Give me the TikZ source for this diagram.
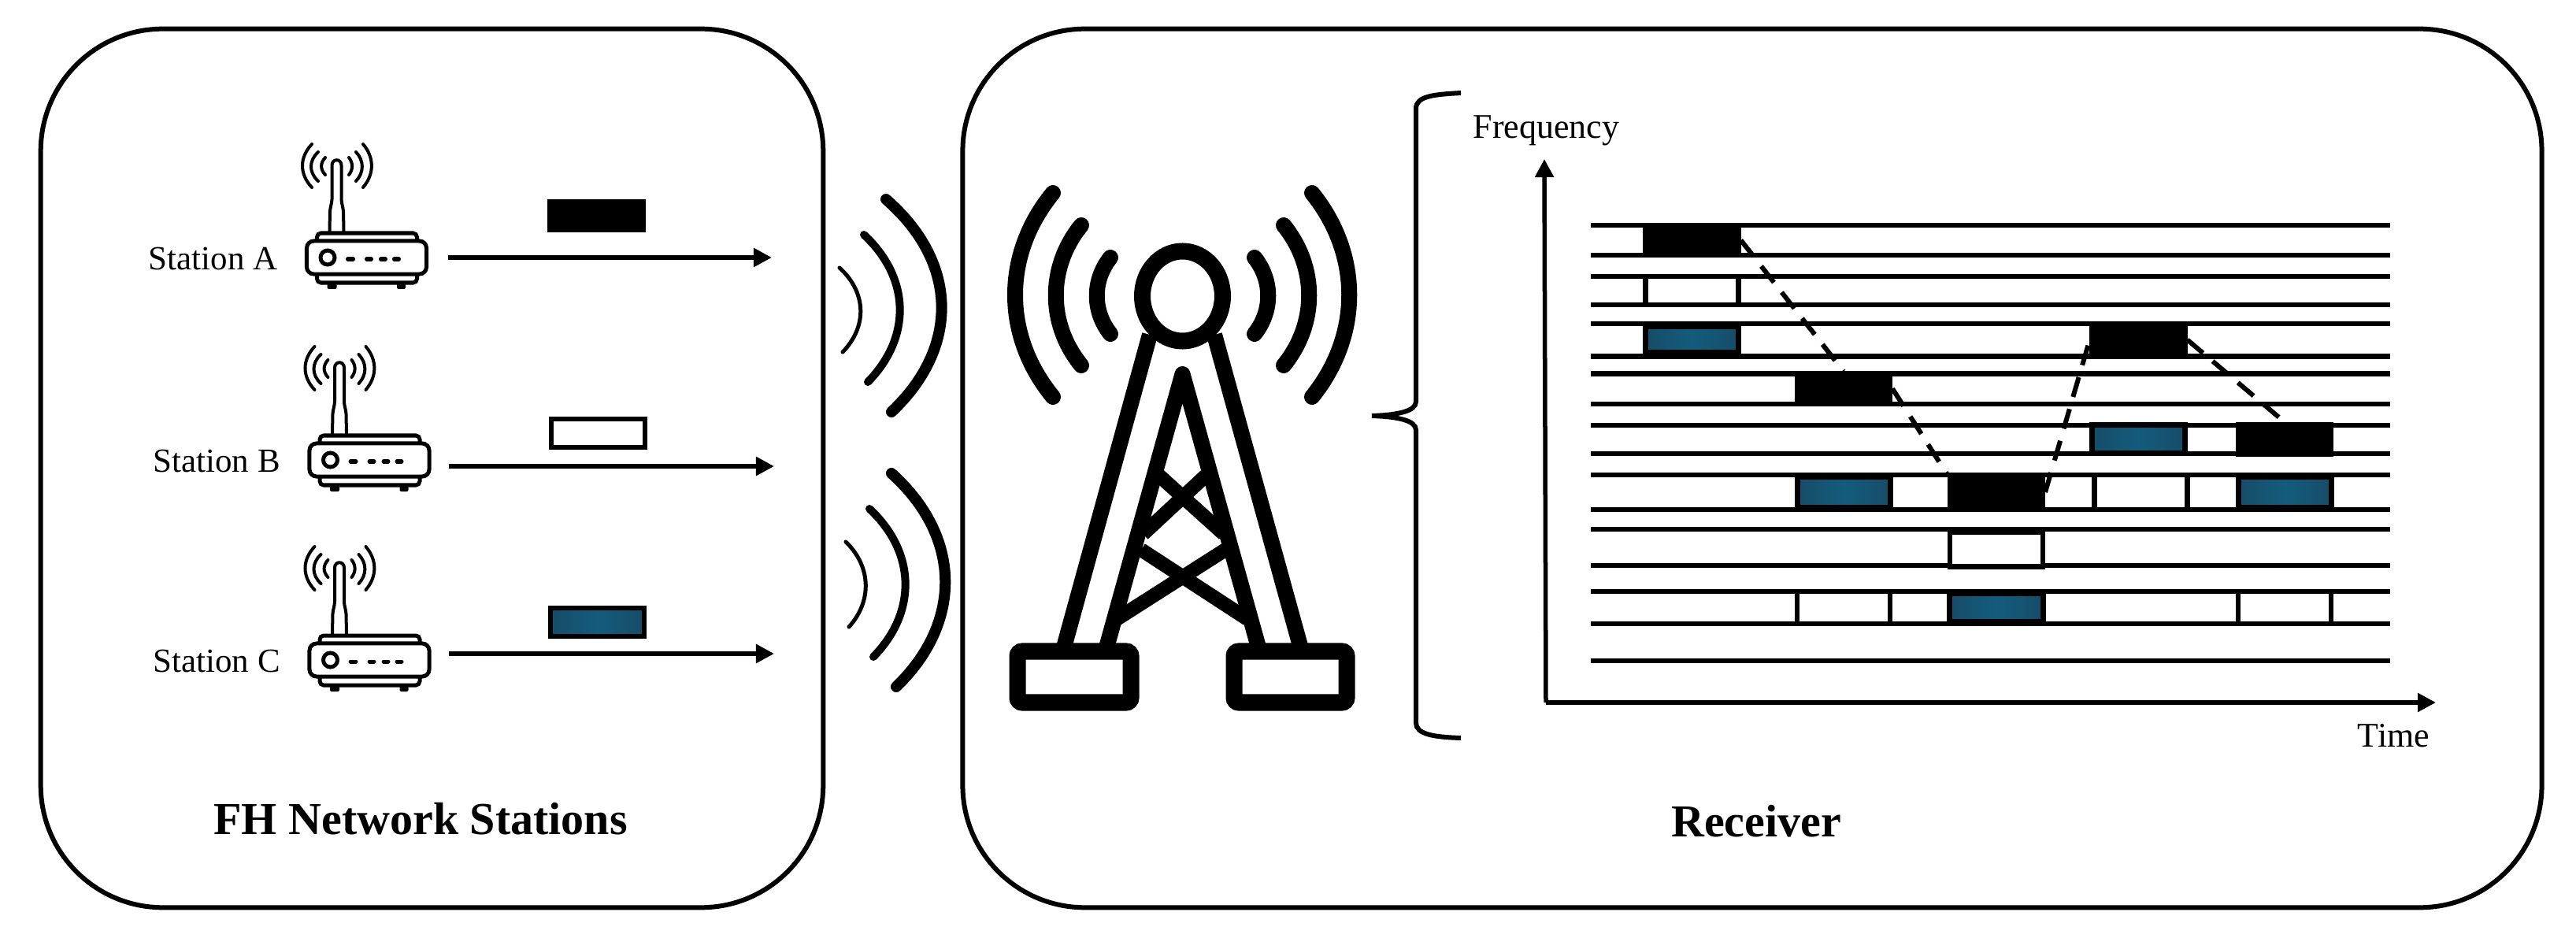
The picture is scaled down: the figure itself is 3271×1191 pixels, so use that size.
\documentclass[tikz,border=0pt]{standalone}
\usepackage{fontspec}
\setmainfont{Liberation Serif}
\usetikzlibrary{arrows.meta,positioning,calc}
\definecolor{hopedge}{RGB}{22,76,104}
\definecolor{hopmid}{RGB}{20,92,124}
\tikzset{
  panel/.style={draw,line width=0.06cm,rounded corners=1.55cm},
  lbl/.style={font=\fontsize{12.5}{15}\selectfont,inner sep=0},
  stn/.style={font=\fontsize{12.2}{15}\selectfont,inner sep=0,yshift=-0.02cm},
  ttl/.style={font=\fontsize{16.5}{20}\selectfont\bfseries,inner sep=0},
  arr/.style={-{Triangle[length=0.23cm,width=0.23cm]},line width=0.06cm},
  chan/.style={line width=0.065cm},
  blackpkt/.style={fill=black,minimum width=1.24cm,minimum height=0.44cm,inner sep=0,outer sep=0},
  whitepkt/.style={draw,fill=white,line width=0.065cm,minimum width=1.18cm,inner sep=0,outer sep=0},
  bluepkt/.style={draw,line width=0.07cm,left color=hopedge,right color=hopedge,middle color=hopmid,minimum width=1.18cm,inner sep=0,outer sep=0},
  hopline/.style={line width=0.06cm,dash pattern=on 0.26cm off 0.16cm},
  sig/.style={line cap=round},
  routerbody/.style={draw,line width=0.05cm,rounded corners=0.09cm,minimum width=1.52cm,minimum height=0.42cm,inner sep=0,outer sep=0.025cm},
  pics/router/.style={code={
    \draw[line width=0.04cm,rounded corners=0.02cm] (-47,-33) -- (-46.5,-60) -- (-44,-72) -- (-44,-115) .. controls (-44,-126) and (-32,-126) .. (-32,-115) -- (-32,-72) -- (-29.5,-60) -- (-29,-33);
    \foreach \xa/\xc/\ya/\yb/\yc/\yd in {-69.5/-85.5/-144/-89/-127/-106,-61.5/-73.5/-134/-97/-123/-108,-52.5/-59/-127/-105/-120/-112,-4.5/10/-144/-89/-127/-106,-13.5/-3/-134/-97/-123/-108,-22.5/-17/-127/-105/-120/-112}
      \draw[sig,line width=0.04cm] (\xa,\ya) .. controls (\xc,\yc) and (\xc,\yd) .. (\xa,\yb);
    \draw[line width=0.05cm,rounded corners=0.05cm] (-63,-21) -- (-63,-31) -- (64,-31) -- (64,-21);
    \draw[line width=0.05cm,rounded corners=0.05cm] (-63,21) -- (-63,32) -- (64,32) -- (64,21);
    \node[routerbody] (-body) at (0,0) {};
    \draw[line width=0.05cm] (-49.5,0) circle [radius=9];
    \foreach \xa/\xb in {-24/-17,0/6,18/24,35/41}
      \draw[sig,line width=0.05cm] (\xa,2) -- (\xb,2);
    \fill[rounded corners=0.02cm] (-50,33) rectangle (-38,40);
    \fill[rounded corners=0.02cm] (38.5,33) rectangle (49.5,40);
  }}
}
\begin{document}
\begin{tikzpicture}[x=0.01cm,y=-0.01cm]
\useasboundingbox (0,0) rectangle (3271,1191);
\node[panel,minimum width=9.93cm,minimum height=11.15cm] (left) at (548.5,594.5) {};
\node[panel,minimum width=20.04cm,minimum height=11.15cm] (right) at (3227-1002,594.5) {};
\pic (ra) at (465.5,327) {router};
\pic (rb) at (469,584) {router};
\pic (rc) at (469,838) {router};
\node[stn,left=0.34cm of ra-body] (la) {Station A};
\node[stn,left=0.34cm of rb-body] (lb) {Station B};
\node[stn,left=0.34cm of rc-body] (lc) {Station C};
\coordinate (ea) at (980,327);
\coordinate (eb) at (983,592);
\coordinate (ec) at (983,830);
\draw[arr,shorten <=0.25cm] (ra-body.east |- ea) -- (ea);
\draw[arr,shorten <=0.22cm] (rb-body.east |- eb) -- (eb);
\draw[arr,shorten <=0.22cm] (rc-body.east |- ec) -- (ec);
\node[fill=black,minimum width=1.25cm,minimum height=0.42cm,inner sep=0] (pa) at (757.5,274) {};
\node[draw,line width=0.06cm,minimum width=1.19cm,minimum height=0.36cm,inner sep=0] (pb) at (759.5,550) {};
\node[bluepkt,line width=0.06cm,minimum width=1.19cm,minimum height=0.36cm] (pc) at (758.5,790) {};
\node[ttl] (tl) at (534,1040) {FH Network Stations};
\node[ttl] (tr) at (2230,1043) {Receiver};
% waves between the panels
\foreach \xa/\xb/\xc/\ya/\yb/\yc/\yd/\w in {1125/1132/1218/253/523/334/442/0.14,1097/1102/1157/298/485/354/429/0.1,1066/1070/1101/340/447/372/415/0.05,1132/1138/1222/601/872/682/791/0.14,1104/1109/1164/646/834/702/778/0.1,1074/1078/1107/688/796/720/764/0.05}
  \draw[sig,line width=\w cm] (\xa,\ya) .. controls (\xc,\yc) and (\xc,\yd) .. (\xb,\yb);
% tower
\foreach \xa/\xc/\ya/\yb/\yc/\yd in {1337/1273/245/504/323/426,1373/1330/286/464/339/411,1410/1387/327/424/356/395,1666/1729/245/504/323/426,1630/1673/286/464/339/411,1593/1616/327/424/356/395}
  \draw[sig,line width=0.2cm] (\xa,\ya) .. controls (\xc,\yc) and (\xc,\yd) .. (\xa,\yb);
\draw[line width=0.21cm] (1501.5,376) ellipse [x radius=51,y radius=57];
\draw[line width=0.2cm] (1460,425) -- (1351.5,820);
\draw[line width=0.2cm] (1542,425) -- (1651,820);
\draw[line width=0.2cm,line join=round] (1405.6,820) -- (1501.5,475) -- (1597.5,820);
\foreach \xa/\ya/\xb/\yb in {1472/604/1554/678,1531/604/1451.5/678,1449/698/1584/786,1556/698/1418/786}
  \draw[line width=0.18cm] (\xa,\ya) -- (\xb,\yb);
\draw[line width=0.21cm,rounded corners=0.06cm,fill=white] (1292,827) rectangle (1436,892);
\draw[line width=0.21cm,rounded corners=0.06cm,fill=white] (1567,827) rectangle (1710,892);
% brace
\draw[line width=0.06cm] (1855,118) .. controls (1820,120) and (1798,122) .. (1798,138) -- (1798,510) .. controls (1798,522) and (1775,527) .. (1742,528) .. controls (1775,529) and (1798,534) .. (1798,546) -- (1798,918) .. controls (1798,932) and (1820,936) .. (1855,937);
% axes
\coordinate (orig) at (1963,892);
\coordinate (ftop) at (1961,202);
\coordinate (tend) at (3093,892);
\draw[arr,line width=0.055cm] (orig) -- (ftop);
\draw[arr,line width=0.055cm] (orig) -- (tend);
\node[lbl,anchor=base west] (fq) at (1870,176) {Frequency};
\node[lbl,anchor=base west] (tm) at (2993,948) {Time};
% channels and packets
\foreach \y in {286,324,351,387,411,452.5,474.5,513,540,576,603,647,672,718,751,792,839}
  \draw[chan] (2020,\y) -- (3035,\y);
\foreach \n/\x/\y in {h1/2148.5/305,h2/2341/493.5,h3/2535/625,h4/2715.5/431.5,h5/2901/558}
  \node[blackpkt] (\n) at (\x,\y) {};
\foreach \n/\x/\y/\h in {w1/2148.5/369/0.36,w2/2718.5/625/0.44,w3/2341/771.5/0.41,w4/2901/771.5/0.41,w5/2535/697.5/0.44}
  \node[whitepkt,minimum height=\h cm] (\n) at (\x,\y) {};
\foreach \n/\x/\y/\h in {c1/2148.5/431/0.33,c2/2341.5/625/0.38,c3/2715.5/557.5/0.35,c4/2901.5/625/0.38,c5/2535/771.5/0.36}
  \node[bluepkt,minimum height=\h cm] (\n) at (\x,\y) {};
\draw[hopline] (h1.east) -- (h2.north);
\draw[hopline] (h2.east) -- (h3.north west);
\draw[hopline] (h3.east) -- (h4.west);
\draw[hopline] (h4.east) -- (h5.north);
\end{tikzpicture}
\end{document}
